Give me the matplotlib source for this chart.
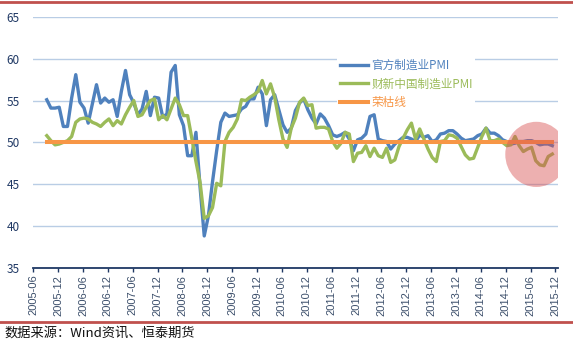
import numpy as np
import matplotlib.pyplot as plt
from matplotlib.lines import Line2D
from matplotlib.patches import Ellipse

plt.rcParams['font.family'] = ['Noto Sans CJK SC', 'DejaVu Sans']

# monthly data, 2005-09 .. 2015-11
start_offset = 3  # months after 2005-06
official_pmi = [55.1, 54.1, 54.1, 54.2,
                51.9, 51.9, 55.3, 58.1, 54.8, 54.1, 52.3, 54.6, 56.9, 54.7, 55.3, 54.8,
                55.1, 53.1, 56.1, 58.6, 55.7, 54.7, 53.3, 54.0, 56.1, 53.2, 55.4, 55.3,
                53.0, 53.4, 58.4, 59.2, 53.3, 52.0, 48.4, 48.4, 51.2, 44.6, 38.8, 41.2,
                45.3, 49.0, 52.4, 53.5, 53.1, 53.2, 53.3, 54.0, 54.3, 55.2, 55.2, 56.6,
                55.8, 52.0, 55.1, 55.7, 53.9, 52.1, 51.2, 51.7, 53.8, 54.7, 55.2, 53.9,
                52.9, 52.2, 53.4, 52.9, 52.0, 50.9, 50.7, 50.9, 51.2, 50.4, 49.0, 50.3,
                50.5, 51.0, 53.1, 53.3, 50.4, 50.2, 50.1, 49.2, 49.8, 50.2, 50.6, 50.6,
                50.4, 50.1, 50.9, 50.6, 50.8, 50.1, 50.3, 51.0, 51.1, 51.4, 51.4, 51.0,
                50.5, 50.2, 50.3, 50.4, 50.8, 51.0, 51.7, 51.1, 51.1, 50.8, 50.3, 50.1,
                49.8, 49.9, 50.1, 50.1, 50.2, 50.2, 50.0, 49.7, 49.8, 49.8, 49.6]
caixin_pmi = [50.8, 50.2, 49.7, 49.8,
              50.0, 50.2, 50.7, 52.4, 52.8, 52.9, 52.8, 52.4, 52.2, 51.9, 52.4, 52.8,
              52.0, 52.6, 52.2, 53.3, 54.2, 55.0, 53.1, 53.3, 54.2, 55.0, 55.2, 52.7,
              53.2, 52.7, 54.0, 55.3, 54.5, 53.2, 53.2, 50.5, 47.7, 45.2, 40.9, 41.2,
              42.2, 45.1, 44.8, 50.1, 51.2, 51.8, 52.8, 55.1, 55.0, 55.4, 55.7, 56.1,
              57.4, 55.8, 57.0, 55.4, 52.7, 50.4, 49.4, 51.7, 52.9, 54.8, 55.3, 54.4,
              54.5, 51.7, 51.8, 51.8, 51.6, 50.1, 49.3, 49.9, 51.2, 51.0, 47.7, 48.7,
              48.8, 49.6, 48.3, 49.3, 48.4, 48.2, 49.3, 47.6, 47.9, 49.5, 50.5, 51.5,
              52.3, 50.4, 51.6, 50.4, 49.2, 48.2, 47.7, 50.1, 50.2, 50.9, 50.8, 50.5,
              49.5, 48.5, 48.0, 48.1, 49.4, 50.7, 51.7, 50.2, 50.2, 50.4, 50.0, 49.6,
              49.7, 50.7, 49.6, 48.9, 49.2, 49.4, 47.8, 47.3, 47.2, 48.3, 48.6]
boom_bust = [50.0] * len(official_pmi)
tick_labels = ['2005-06', '2005-12', '2006-06', '2006-12', '2007-06', '2007-12',
               '2008-06', '2008-12', '2009-06', '2009-12', '2010-06', '2010-12',
               '2011-06', '2011-12', '2012-06', '2012-12', '2013-06', '2013-12',
               '2014-06', '2014-12', '2015-06', '2015-12']

x = np.arange(len(official_pmi)) + start_offset + 0.25

W, H = 573, 343
fig = plt.figure(figsize=(W / 100, H / 100), dpi=100)
ax = fig.add_axes([33.3 / W, 1 - 267.7 / H, (557.5 - 33.3) / W, (267.7 - 17) / H])

ax.plot(x, official_pmi, color='#4F81BD', lw=2.4, label='官方制造业PMI', zorder=3)
ax.plot(x, caixin_pmi, color='#9BBB59', lw=2.4, label='财新中国制造业PMI', zorder=3)
ax.plot(x, boom_bust, color='#F79646', lw=2.9, label='荣枯线', zorder=3)

ax.add_patch(Ellipse((121.4, 48.56), 15, 7.8, facecolor='#D95050', alpha=0.45,
                     edgecolor='none', zorder=5))

ax.set_xlim(0, 126.5)
ax.set_ylim(35, 65)
ax.set_yticks(range(35, 66, 5))
ax.set_xticks(range(0, 127, 6))
ax.set_xticklabels(tick_labels, rotation=90)
ax.grid(axis='y', color='#B9CDE5', lw=1.0)
ax.set_axisbelow(True)
for s in ['left', 'right', 'top']:
    ax.spines[s].set_visible(False)
ax.spines['bottom'].set_color('#1F3864')
ax.spines['bottom'].set_linewidth(1.3)
ax.tick_params(axis='y', length=0, pad=10, labelsize=8.5, labelcolor='#1F3864')
ax.tick_params(axis='x', length=3, width=1, color='#1F3864', pad=2,
               labelsize=8, labelcolor='#3C4F6B')
for lab in ax.get_xticklabels():
    lab.set_family(['Liberation Sans', 'DejaVu Sans'])

leg = ax.legend(loc='upper left', bbox_to_anchor=(331.5 / W, 1 - 51 / H),
                bbox_transform=fig.transFigure, fontsize=8.4, frameon=True,
                facecolor='white', edgecolor='none', fancybox=False, framealpha=1,
                handlelength=2.4, handletextpad=0.3, labelspacing=0.45, borderpad=0.2)
for txt, c in zip(leg.get_texts(), ['#4F81BD', '#9BBB59', '#F79646']):
    txt.set_color(c)

for yy in [1 - 2 / H, 1 - 321.7 / H]:
    fig.add_artist(Line2D([0, 1], [yy, yy], transform=fig.transFigure,
                          color='#C0504D', lw=2))
fig.text(4 / W, 1 - 332.7 / H, '数据来源：Wind资讯、恒泰期货', fontsize=9.5,
         va='center', ha='left', color='#111111')

fig.savefig('out.png', dpi=100)
